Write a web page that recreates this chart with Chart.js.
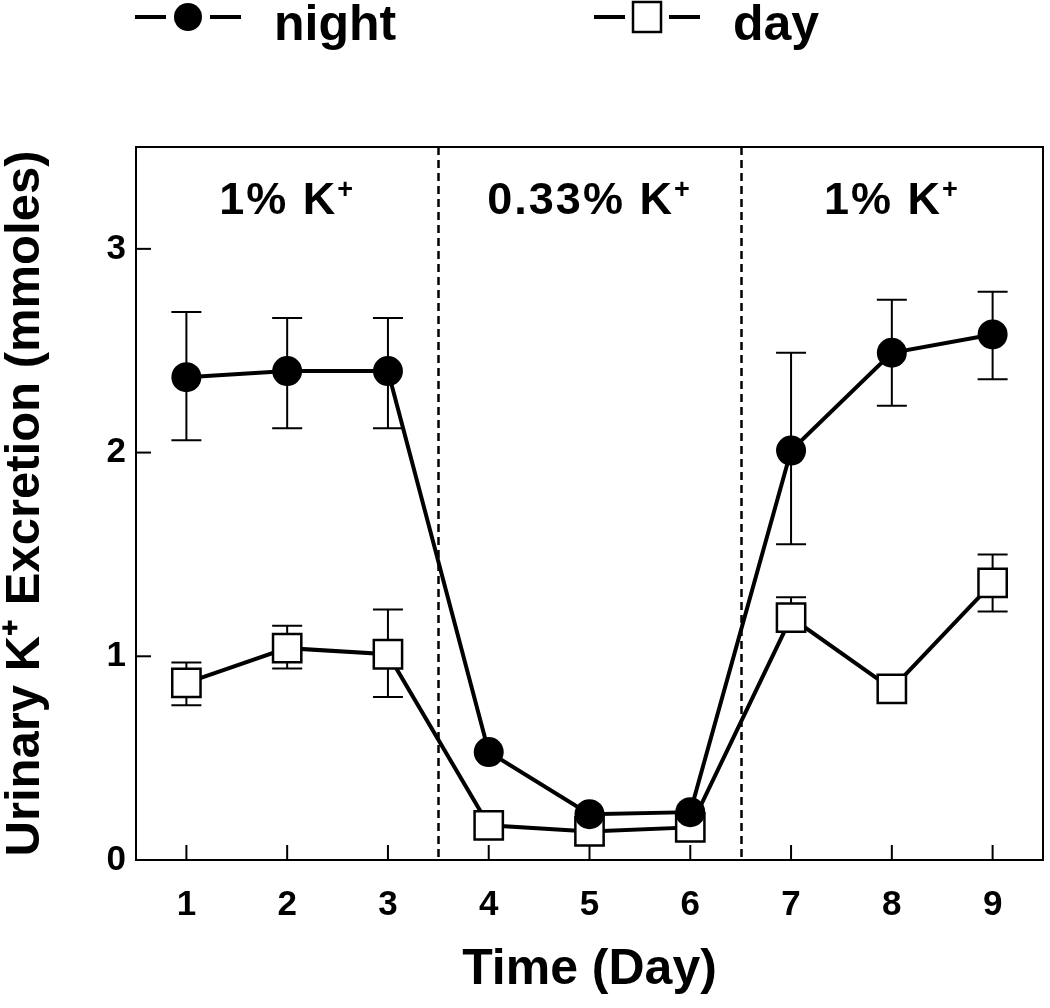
<!DOCTYPE html>
<html>
<head>
<meta charset="utf-8">
<script src="https://cdn.jsdelivr.net/npm/chart.js@4.4.1/dist/chart.umd.min.js"></script>
<style>
  html, body { margin: 0; padding: 0; background: #fff; }
  #wrap { width: 1050px; height: 1008px; }
</style>
</head>
<body>
<div id="wrap"><canvas id="chart" width="1050" height="1008"></canvas></div>
<script>
// days on the x axis
const days = [1, 2, 3, 4, 5, 6, 7, 8, 9];

// night excretion, mean and error bar ends (null = no bar)
const nightMean = [2.37, 2.40, 2.40, 0.53, 0.225, 0.235, 2.01, 2.49, 2.58];
const nightHigh = [2.69, 2.66, 2.66, null, null, null, 2.49, 2.75, 2.79];
const nightLow  = [2.06, 2.12, 2.12, null, null, null, 1.55, 2.23, 2.36];

// day excretion
const dayMean = [0.87, 1.04, 1.01, 0.17, 0.14, 0.16, 1.19, 0.84, 1.36];
const dayHigh = [0.97, 1.15, 1.23, null, null, null, 1.29, null, 1.50];
const dayLow  = [0.76, 0.94, 0.80, null, null, null, 1.12, null, 1.22];

// diet phases
const phaseBounds = [3.5, 6.5];
const phaseCenters = [2, 5, 8];
const phaseLabels = ['1% K', '0.33% K', '1% K'];

const yTicks = [0, 1, 2, 3];

const FONT = '"Liberation Sans", Arial, sans-serif';

function toPoints(values) {
    return days.map((d, i) => ({x: d, y: values[i]}));
}

const errorBars = {
    id: 'errorBars',
    beforeDatasetsDraw(chart) {
        const ctx = chart.ctx;
        const xs = chart.scales.x;
        const ys = chart.scales.y;
        const sets = [[nightMean, nightHigh, nightLow], [dayMean, dayHigh, dayLow]];
        ctx.save();
        ctx.strokeStyle = '#000';
        ctx.lineWidth = 2;
        sets.forEach(([mean, hi, lo]) => {
            days.forEach((d, i) => {
                const px = xs.getPixelForValue(d);
                const pm = ys.getPixelForValue(mean[i]);
                [hi[i], lo[i]].forEach(v => {
                    if (v === null) return;
                    const py = ys.getPixelForValue(v);
                    ctx.beginPath();
                    ctx.moveTo(px, pm);
                    ctx.lineTo(px, py);
                    ctx.moveTo(px - 15, py);
                    ctx.lineTo(px + 15, py);
                    ctx.stroke();
                });
            });
        });
        ctx.restore();
    }
};

const decorations = {
    id: 'decorations',
    beforeDatasetsDraw(chart) {
        const ctx = chart.ctx;
        const area = chart.chartArea;
        const xs = chart.scales.x;
        const ys = chart.scales.y;
        ctx.save();

        // dashed phase boundaries
        ctx.strokeStyle = '#000';
        ctx.lineWidth = 2.5;
        ctx.setLineDash([8, 5]);
        phaseBounds.forEach(b => {
            const px = Math.round(xs.getPixelForValue(b)) + 0.5;
            ctx.beginPath();
            ctx.moveTo(px, area.top);
            ctx.lineTo(px, area.bottom);
            ctx.stroke();
        });
        ctx.setLineDash([]);

        // frame
        ctx.lineWidth = 2;
        ctx.strokeRect(area.left, area.top, area.right - area.left, area.bottom - area.top);

        // inward ticks
        days.forEach(d => {
            const px = xs.getPixelForValue(d);
            ctx.beginPath();
            ctx.moveTo(px, area.bottom);
            ctx.lineTo(px, area.bottom - 15);
            ctx.stroke();
        });
        yTicks.forEach(v => {
            const py = ys.getPixelForValue(v);
            ctx.beginPath();
            ctx.moveTo(area.left, py);
            ctx.lineTo(area.left + 15, py);
            ctx.stroke();
        });

        // phase labels with superscript plus
        ctx.fillStyle = '#000';
        ctx.textBaseline = 'alphabetic';
        ctx.letterSpacing = '2px';
        phaseLabels.forEach((label, i) => {
            ctx.font = 'bold 45px ' + FONT;
            const w1 = ctx.measureText(label).width;
            ctx.font = 'bold 27px ' + FONT;
            const w2 = ctx.measureText('+').width;
            const cx = xs.getPixelForValue(phaseCenters[i]);
            const x0 = cx - (w1 + w2) / 2;
            const base = ys.top + 67;
            ctx.font = 'bold 45px ' + FONT;
            ctx.textAlign = 'left';
            ctx.fillText(label, x0, base);
            ctx.font = 'bold 27px ' + FONT;
            ctx.fillText('+', x0 + w1, base - 16);
        });
        ctx.restore();
    },
    afterDraw(chart) {
        // legend: line - marker - line, then text
        const ctx = chart.ctx;
        const entries = [
            {cx: 188, text: 'night', filled: true},
            {cx: 647, text: 'day', filled: false}
        ];
        const cy = 17;
        ctx.save();
        ctx.strokeStyle = '#000';
        ctx.fillStyle = '#000';
        entries.forEach(e => {
            ctx.lineWidth = 4;
            ctx.beginPath();
            ctx.moveTo(e.cx - 53, cy);
            ctx.lineTo(e.cx - 22, cy);
            ctx.moveTo(e.cx + 22, cy);
            ctx.lineTo(e.cx + 53, cy);
            ctx.stroke();
            if (e.filled) {
                ctx.beginPath();
                ctx.arc(e.cx, cy, 14, 0, Math.PI * 2);
                ctx.fill();
            } else {
                ctx.lineWidth = 2.5;
                ctx.fillStyle = '#fff';
                ctx.fillRect(e.cx - 14, cy - 15, 28, 30);
                ctx.strokeRect(e.cx - 14, cy - 15, 28, 30);
                ctx.fillStyle = '#000';
            }
            ctx.font = 'bold 50px ' + FONT;
            ctx.textAlign = 'left';
            ctx.textBaseline = 'alphabetic';
            ctx.fillText(e.text, e.cx + 86, 40);
        });
        ctx.restore();
    }
};

const ctx = document.getElementById('chart').getContext('2d');
const chart = new Chart(ctx, {
    type: 'line',
    data: {
        datasets: [
            {
                label: 'night',
                data: toPoints(nightMean),
                borderColor: '#000',
                borderWidth: 4,
                pointStyle: 'circle',
                pointRadius: 15,
                pointBackgroundColor: '#000',
                pointBorderColor: '#000',
                pointBorderWidth: 0,
                tension: 0
            },
            {
                label: 'day',
                data: toPoints(dayMean),
                borderColor: '#000',
                borderWidth: 4,
                pointStyle: 'rect',
                pointRadius: 20,
                pointBackgroundColor: '#fff',
                pointBorderColor: '#000',
                pointBorderWidth: 2.5,
                tension: 0
            }
        ]
    },
    options: {
        responsive: false,
        animation: false,
        events: [],
        layout: {autoPadding: false, padding: {top: 147, right: 7, left: 0, bottom: 0}},
        plugins: {
            legend: {display: false},
            tooltip: {enabled: false}
        },
        scales: {
            x: {
                type: 'linear',
                min: 0.5,
                max: 9.5,
                afterBuildTicks(scale) {
                    scale.ticks = days.map(v => ({value: v}));
                },
                afterFit(scale) {
                    scale.height = 148;
                    scale.paddingLeft = 0;
                    scale.paddingRight = 0;
                },
                grid: {display: false, drawTicks: false},
                border: {display: false},
                ticks: {
                    color: '#000',
                    padding: 24,
                    font: {family: FONT, size: 35, weight: 'bold'}
                },
                title: {
                    display: true,
                    text: 'Time (Day)',
                    color: '#000',
                    padding: {top: 0, bottom: 8},
                    font: {family: FONT, size: 50, weight: 'bold', lineHeight: 1.2}
                }
            },
            y: {
                type: 'linear',
                min: 0,
                max: 3.5,
                afterBuildTicks(scale) {
                    scale.ticks = yTicks.map(v => ({value: v}));
                },
                afterFit(scale) {
                    scale.width = 136;
                    scale.paddingTop = 0;
                    scale.paddingBottom = 0;
                },
                grid: {display: false, drawTicks: false},
                border: {display: false},
                ticks: {
                    color: '#000',
                    padding: 10,
                    font: {family: FONT, size: 35, weight: 'bold'}
                },
                title: {
                    display: true,
                    text: 'Urinary K\u207A Excretion (mmoles)',
                    color: '#000',
                    padding: {top: 0, bottom: 0},
                    font: {family: FONT, size: 49, weight: 'bold', lineHeight: 1.05}
                }
            }
        }
    },
    plugins: [decorations, errorBars]
});
</script>
</body>
</html>
